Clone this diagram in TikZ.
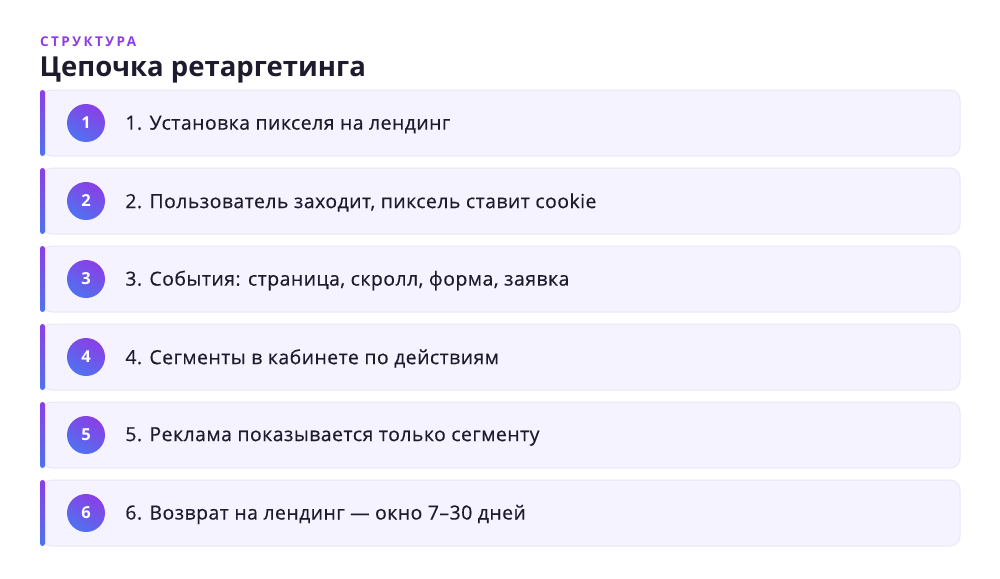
\documentclass[tikz,border=0pt]{standalone}
\usepackage{fontspec}
\setmainfont{Open Sans}
\newfontfamily\kickerfont{Open Sans}[LetterSpace=18]
\newfontfamily\rowfont{Open Sans}[FakeBold=0.45, LetterSpace=2.5]
\usepackage{tikz}
\usetikzlibrary{positioning}
\definecolor{inkdark}{HTML}{1E1B2E}
\definecolor{kicker}{HTML}{8B3FE3}
\definecolor{boxfill}{HTML}{F5F3FF}
\definecolor{boxline}{HTML}{EAE7F7}
\definecolor{gradtop}{HTML}{8A3FE6}
\definecolor{gradbot}{HTML}{4F72F0}
\newcommand{\rowwidth}{918pt}
\newcommand{\rowheight}{66pt}

\tikzset{
  rowbox/.style={draw=boxline, line width=1pt, fill=boxfill, rounded corners=10pt,
    minimum width=\rowwidth, minimum height=\rowheight, inner sep=0pt},
  accentbar/.style={top color=gradtop, bottom color=gradbot, rounded corners=2.5pt,
    minimum width=5pt, minimum height=\rowheight, inner sep=0pt},
  numdot/.style={circle, top color=gradtop, bottom color=gradbot, shading angle=-30,
    minimum size=38pt, inner sep=0pt, text=white, font=\fontsize{16.5}{16}\selectfont\bfseries},
  rowtext/.style={anchor=west, text=inkdark, inner sep=0pt, yshift=-1.5pt,
    font=\rowfont\fontsize{19.4}{22}\selectfont}
}

\begin{document}
\begin{tikzpicture}[x=1pt, y=-1pt]
\useasboundingbox[fill=white] (0,0) rectangle (1000,578);
% header
\node[anchor=west, inner sep=0pt, text=kicker] (kick) at (40,41.5) {\kickerfont\fontsize{13.5}{14}\selectfont\bfseries СТРУКТУРА};
\node[anchor=west, inner sep=0pt, text=inkdark] (title) at (39.5,70) {\fontsize{27.5}{30}\selectfont\bfseries Цепочка ретаргетинга};
% rows
\node[rowbox] (r1) at (501,123) {};
\node[rowbox] (r2) at (501,201) {};
\node[rowbox] (r3) at (501,279) {};
\node[rowbox] (r4) at (501,357) {};
\node[rowbox] (r5) at (501,435) {};
\node[rowbox] (r6) at (501,513) {};
\node[accentbar] (b1) at (42.5,123) {};
\node[accentbar] (b2) at (42.5,201) {};
\node[accentbar] (b3) at (42.5,279) {};
\node[accentbar] (b4) at (42.5,357) {};
\node[accentbar] (b5) at (42.5,435) {};
\node[accentbar] (b6) at (42.5,513) {};
% numbers
\node[numdot] (n1) at (86,123) {1};
\node[numdot] (n2) at (86,201) {2};
\node[numdot] (n3) at (86,279) {3};
\node[numdot] (n4) at (86,357) {4};
\node[numdot] (n5) at (86,435) {5};
\node[numdot] (n6) at (86,513) {6};
% labels
\node[rowtext, right=20pt of n1] (t1) {1. Установка пикселя на лендинг};
\node[rowtext, right=20pt of n2] (t2) {2. Пользователь заходит, пиксель ставит cookie};
\node[rowtext, right=20pt of n3] (t3) {3. События: страница, скролл, форма, заявка};
\node[rowtext, right=20pt of n4] (t4) {4. Сегменты в кабинете по действиям};
\node[rowtext, right=20pt of n5] (t5) {5. Реклама показывается только сегменту};
\node[rowtext, right=20pt of n6] (t6) {6. Возврат на лендинг — окно 7–30 дней};
\end{tikzpicture}
\end{document}
